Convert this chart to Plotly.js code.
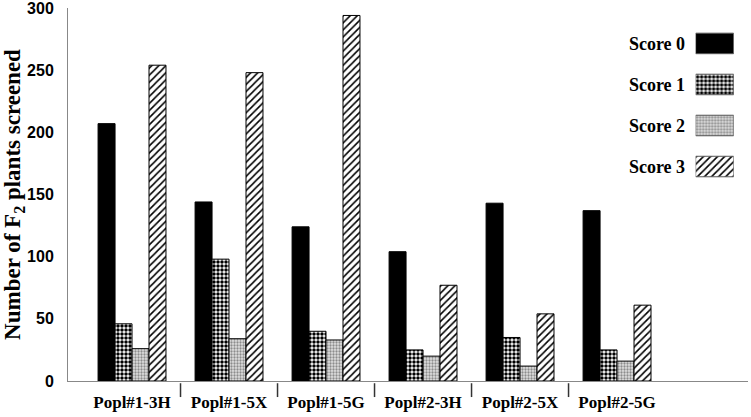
<!DOCTYPE html>
<html>
<head>
<meta charset="utf-8">
<script src="https://cdn.plot.ly/plotly-3.0.1.min.js"></script>
<style>
  html, body { margin: 0; padding: 0; background: #fff; }
  #chart { width: 751px; height: 417px; }
</style>
</head>
<body>
<div id="chart"></div>
<script>
const populations = ['Popl#1-3H', 'Popl#1-5X', 'Popl#1-5G', 'Popl#2-3H', 'Popl#2-5X', 'Popl#2-5G'];
const scoreNames = ['Score 0', 'Score 1', 'Score 2', 'Score 3'];
const score0 = [207, 144, 124, 104, 143, 137];
const score1 = [46, 98, 40, 25, 35, 25];
const score2 = [26, 34, 33, 20, 12, 16];
const score3 = [254, 248, 294, 77, 54, 61];
const yTicks = [0, 50, 100, 150, 200, 250, 300];

const serif = 'Liberation Serif, Times New Roman, serif';
const sans = 'Liberation Sans, Arial, sans-serif';

// fill style per score
const looks = [
    {color: '#000', pattern: {shape: ''}},
    {color: '#fff', pattern: {shape: '.', fgcolor: '#000', bgcolor: '#fff', size: 4, solidity: 0.6, fillmode: 'replace'}},
    {color: '#fff', pattern: {shape: '.', fgcolor: '#8c8c8c', bgcolor: '#e0e0e0', size: 3, solidity: 0.45, fillmode: 'replace'}},
    {color: '#fff', pattern: {shape: '/', fgcolor: '#000', bgcolor: '#fff', size: 5, solidity: 0.32, fillmode: 'replace'}}
];

const series = [score0, score1, score2, score3];
const xs = populations.map((p, i) => i);

let data = series.map((vals, k) => ({
    type: 'bar',
    x: xs,
    y: vals,
    name: scoreNames[k],
    marker: {color: looks[k].color, pattern: looks[k].pattern, line: {color: '#000', width: 1}},
    hoverinfo: 'y'
}));

// legend swatches drawn on a small inset axis
scoreNames.forEach((s, k) => {
    data.push({
        type: 'bar',
        orientation: 'h',
        xaxis: 'x2',
        yaxis: 'y2',
        y: [s],
        x: [1],
        width: 0.5,
        offset: -0.25,
        marker: {color: looks[k].color, pattern: looks[k].pattern, line: {color: '#555', width: 1}},
        hoverinfo: 'skip'
    });
});

const shapes = populations.slice(1).map((p, i) => ({
    type: 'line', xref: 'x', yref: 'paper',
    x0: i + 0.5, x1: i + 0.5, y0: -0.006, y1: -0.043,
    line: {color: '#333', width: 1.5}
}));

const layout = {
    width: 751,
    height: 417,
    margin: {l: 68, r: 3, t: 8, b: 36},
    paper_bgcolor: '#fff',
    plot_bgcolor: '#fff',
    showlegend: false,
    barmode: 'group',
    bargap: 0.3,
    bargroupgap: 0,
    xaxis: {
        range: [-0.66, 6.35],
        tickvals: xs,
        ticktext: populations,
        ticks: '',
        ticklabelstandoff: 6,
        tickfont: {family: serif, size: 17, weight: 'bold', color: '#000'},
        showgrid: false,
        zeroline: false,
        showline: true,
        linecolor: '#888',
        linewidth: 1
    },
    yaxis: {
        range: [0, 300],
        tickvals: yTicks,
        ticks: '',
        ticklabelstandoff: 10,
        ticklabeloverflow: 'allow',
        tickfont: {family: sans, size: 16, weight: 'bold', color: '#000'},
        showgrid: false,
        zeroline: false,
        showline: true,
        linecolor: '#888',
        linewidth: 1,
        title: {
            text: 'Number of F<sub>2</sub> plants screened',
            font: {family: serif, size: 23, weight: 'bold', color: '#000'},
            standoff: 6
        }
    },
    xaxis2: {
        domain: [0.923, 0.979],
        anchor: 'y2',
        range: [0, 1],
        visible: false,
        fixedrange: true
    },
    yaxis2: {
        domain: [0.52, 0.96],
        anchor: 'x2',
        type: 'category',
        autorange: 'reversed',
        showline: false,
        showgrid: false,
        zeroline: false,
        ticks: 'outside',
        ticklen: 6,
        tickcolor: 'rgba(0,0,0,0)',
        tickfont: {family: serif, size: 18, weight: 'bold', color: '#000'},
        fixedrange: true
    },
    shapes: shapes
};

Plotly.newPlot('chart', data, layout, {displayModeBar: false, staticPlot: true});
</script>
</body>
</html>
